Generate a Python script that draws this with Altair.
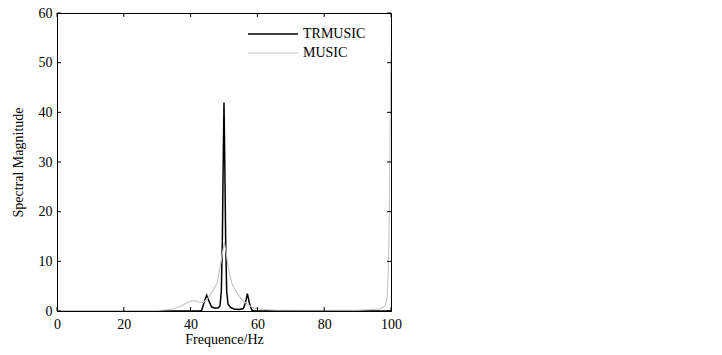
import altair as alt
import pandas as pd

# TRMUSIC series
tr_freq = [0, 42.5, 43.3, 44.0, 44.8, 45.5, 46.3, 47.2, 48.2, 48.8, 49.2, 49.5, 49.8, 50.0,
           50.2, 50.5, 50.8, 51.2, 52.0, 53.0, 54.5, 55.8, 56.4, 57.0, 57.6, 58.3, 59.0, 100]
tr_mag = [0, 0, 0.1, 1.6, 3.2, 2.0, 0.8, 0.6, 0.6, 1.0, 4.0, 14.0, 32.0, 42.0,
          32.0, 14.0, 4.0, 1.4, 0.7, 0.4, 0.3, 0.5, 1.6, 3.5, 1.6, 0.2, 0, 0]

# MUSIC series
mu_freq = [0, 30, 34, 37, 39, 40.8, 42.5, 43.8, 45.3, 46.8, 48.0, 49.3, 50.1, 50.6, 51.3,
           52.3, 53.8, 55.7, 58.3, 60, 65, 90, 96.7, 98.2, 98.8, 99.2, 99.5, 99.7, 100]
mu_mag = [0.1, 0.1, 0.3, 0.9, 1.7, 2.1, 1.8, 1.7, 2.7, 4.3, 5.7, 10.7, 13.8, 12.0, 8.7,
          5.7, 3.7, 2.0, 0.8, 0.4, 0.2, 0.15, 0.4, 1.0, 2.5, 8.0, 20.0, 35.0, 52.0]

series_names = ["TRMUSIC", "MUSIC"]
series_colors = ["#000000", "#c4c4c4"]

x_ticks = [0, 20, 40, 60, 80, 100]
y_ticks = [0, 10, 20, 30, 40, 50, 60]

rows = []
for f, m in zip(tr_freq, tr_mag):
    rows.append({"freq": f, "mag": m, "series": "TRMUSIC", "o": 1})
for f, m in zip(mu_freq, mu_mag):
    rows.append({"freq": f, "mag": m, "series": "MUSIC", "o": 0})
df = pd.DataFrame(rows)

FONT = "Liberation Serif"
axis_style = dict(labelFont=FONT, titleFont=FONT, labelFontSize=14, titleFontSize=14,
                  labelColor="black", titleColor="black", titleFontWeight="normal",
                  domainColor="black", domainWidth=1, tickSize=0, grid=False,
                  labelFlush=False, labelOverlap=False)

xs = alt.Scale(domain=[0, 100], nice=False, zero=False)
ys = alt.Scale(domain=[0, 60], nice=False, zero=False, clamp=True)

lines = alt.Chart(df).mark_line(clip=True).encode(
    x=alt.X("freq:Q", scale=xs,
            axis=alt.Axis(values=x_ticks, title="Frequence/Hz",
                          labelPadding=6, titlePadding=1, **axis_style)),
    y=alt.Y("mag:Q", scale=ys,
            axis=alt.Axis(values=y_ticks, title="Spectral Magnitude",
                          labelPadding=5, titlePadding=13, **axis_style)),
    color=alt.Color("series:N",
                    scale=alt.Scale(domain=series_names, range=series_colors),
                    legend=alt.Legend(title=None, orient="none", legendX=209, legendY=14,
                                      symbolType="M-5,0H5", symbolSize=100,
                                      symbolStrokeWidth=1.3, labelFont=FONT,
                                      labelFontSize=14, labelColor="black",
                                      labelOffset=23, rowPadding=5, padding=0)),
    strokeWidth=alt.StrokeWidth("series:N",
                                scale=alt.Scale(domain=series_names, range=[1.5, 1.1]),
                                legend=None),
    order=alt.Order("o:Q"),
    detail="series:N",
)

# inward ticks (MATLAB style)
xt = pd.DataFrame({"v": x_ticks})
yt = pd.DataFrame({"v": y_ticks})
tick_len_y = 0.8   # in magnitude units (~4px)
tick_len_x = 1.2   # in Hz units (~4px)

bot = alt.Chart(xt).mark_rule(color="black", strokeWidth=1).encode(
    x=alt.X("v:Q", scale=xs), y=alt.datum(0), y2=alt.datum(tick_len_y))
top = alt.Chart(xt).mark_rule(color="black", strokeWidth=1).encode(
    x=alt.X("v:Q", scale=xs), y=alt.datum(60), y2=alt.datum(60 - tick_len_y))
left = alt.Chart(yt).mark_rule(color="black", strokeWidth=1).encode(
    y=alt.Y("v:Q", scale=ys), x=alt.datum(0), x2=alt.datum(tick_len_x))
right = alt.Chart(yt).mark_rule(color="black", strokeWidth=1).encode(
    y=alt.Y("v:Q", scale=ys), x=alt.datum(100), x2=alt.datum(100 - tick_len_x))

chart = alt.layer(lines, bot, top, left, right).properties(
    width=334, height=298,
    autosize=alt.AutoSizeParams(type="none"),
    padding={"left": 49, "top": 5, "right": 40, "bottom": 40},
).configure_view(
    stroke="black", strokeWidth=1
)

chart.save("out.html", embed_options={"renderer": "svg", "actions": False})
